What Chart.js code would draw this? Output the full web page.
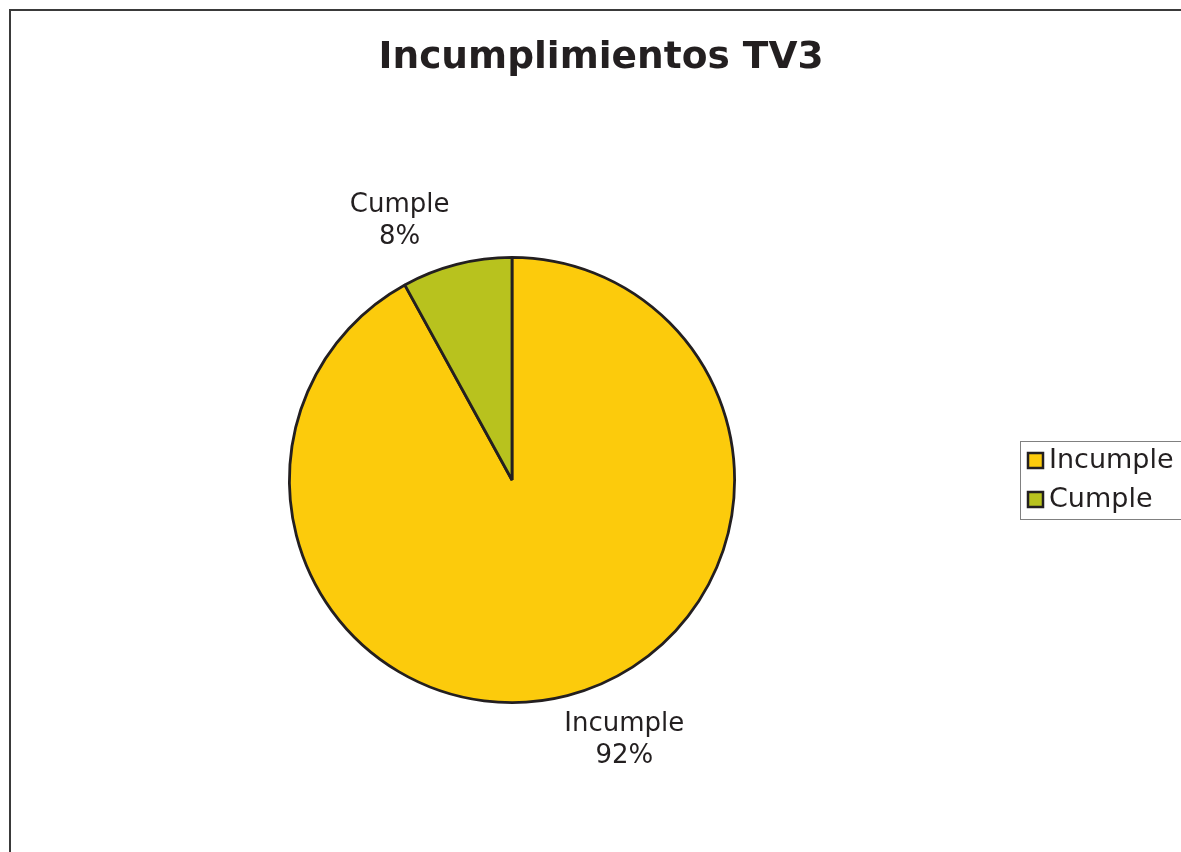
<!DOCTYPE html>
<html>
<head>
<meta charset="utf-8">
<script src="https://cdn.jsdelivr.net/npm/chart.js@4/dist/chart.umd.min.js"></script>
<style>
  html, body { margin: 0; padding: 0; background: #fff; }
  #wrap { width: 1181px; height: 852px; }
</style>
</head>
<body>
<div id="wrap"><canvas id="pieChart"></canvas></div>
<script>
// datos
const categories = ["Incumple", "Cumple"];
const values = [92, 8];
const colors = ["#FCCB0C", "#B8C21E"];
const chartTitle = "Incumplimientos TV3";

const FONT = "'DejaVu Sans', Verdana, sans-serif";

// marco, titulo, etiquetas y leyenda
const decoPlugin = {
  id: "deco",
  beforeDraw(chart) {
    const ctx = chart.ctx;
    ctx.save();
    ctx.fillStyle = "#fff";
    ctx.fillRect(0, 0, chart.width, chart.height);
    ctx.strokeStyle = "#3a3a3a";
    ctx.lineWidth = 2;
    ctx.beginPath();
    ctx.moveTo(10, chart.height);
    ctx.lineTo(10, 10);
    ctx.lineTo(chart.width, 10);
    ctx.stroke();
    ctx.restore();
  },
  afterDraw(chart) {
    const ctx = chart.ctx;
    ctx.save();
    // titulo
    ctx.fillStyle = "#231F20";
    ctx.font = "bold 37.5px " + FONT;
    ctx.textAlign = "center";
    ctx.textBaseline = "middle";
    ctx.fillText(chartTitle, 601, 58);

    // etiquetas de los sectores
    const meta = chart.getDatasetMeta(0);
    const total = values.reduce((a, b) => a + b, 0);
    ctx.font = "26px " + FONT;
    meta.data.forEach((arc, i) => {
      const mid = (arc.startAngle + arc.endAngle) / 2;
      const ex = arc.x + Math.cos(mid) * arc.outerRadius;
      const ey = arc.y + Math.sin(mid) * arc.outerRadius;
      const cx = ex + Math.sign(Math.cos(mid)) * 57;
      const cy = ey + Math.sign(Math.sin(mid)) * 44;
      const pct = Math.round(values[i] / total * 100) + "%";
      ctx.fillText(categories[i], cx, cy - 15);
      ctx.fillText(pct, cx, cy + 17);
    });

    // leyenda
    const lx = 1020, ly = 441, lw = 170, lh = 78;
    ctx.strokeStyle = "#808080";
    ctx.lineWidth = 1;
    ctx.strokeRect(lx + 0.5, ly + 0.5, lw, lh);
    ctx.textAlign = "left";
    ctx.font = "27px " + FONT;
    categories.forEach((c, i) => {
      const y = ly + 19 + i * 39;
      ctx.fillStyle = colors[i];
      ctx.fillRect(lx + 8, y - 7, 15, 15);
      ctx.strokeStyle = "#231F20";
      ctx.lineWidth = 2.5;
      ctx.strokeRect(lx + 8, y - 7, 15, 15);
      ctx.fillStyle = "#231F20";
      ctx.fillText(c, lx + 29, y + 1);
    });
    ctx.restore();
  }
};

const ctx = document.getElementById("pieChart").getContext("2d");
new Chart(ctx, {
  type: "pie",
  data: {
    labels: categories,
    datasets: [{
      data: values,
      backgroundColor: colors,
      borderColor: "#231F20",
      borderWidth: 2.8
    }]
  },
  options: {
    responsive: true,
    maintainAspectRatio: false,
    animation: false,
    layout: { padding: { left: 288, right: 445, top: 256, bottom: 148 } },
    plugins: {
      legend: { display: false },
      title: { display: false },
      tooltip: { enabled: false }
    }
  },
  plugins: [decoPlugin]
});
</script>
</body>
</html>
